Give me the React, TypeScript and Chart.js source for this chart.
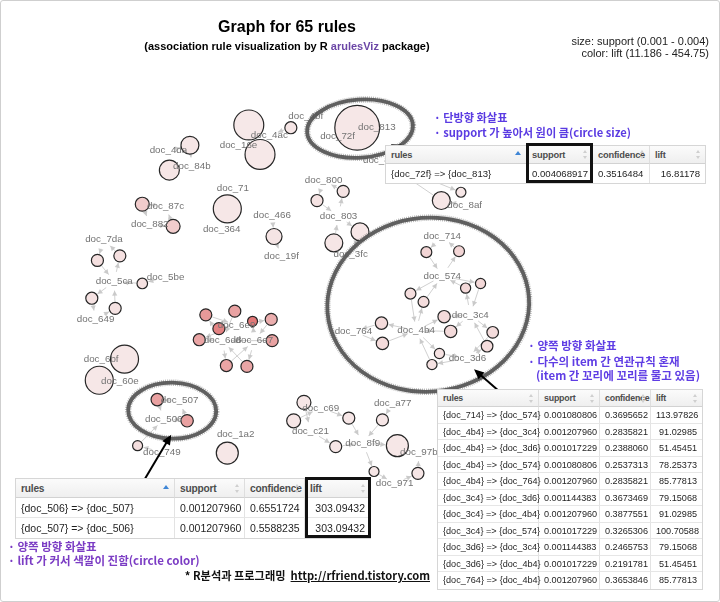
import React, { useEffect, useRef } from "react";
import { Chart, registerables } from "chart.js";

Chart.register(...registerables);

// ---------------- graph data (layout coordinates of the igraph plot) ----------------
const itemNames = [
  "doc_4bf", "doc_4ac", "doc_16e", "doc_72f", "doc_813", "doc_4da", "doc_84b", "doc_71",
  "doc_87c", "doc_882", "doc_364", "doc_466", "doc_19f", "doc_800", "doc_803", "doc_3fc",
  "doc_8af", "doc_7da", "doc_5ca", "doc_5be", "doc_649", "doc_6e9", "doc_6d8", "doc_6e7",
  "doc_6bf", "doc_60e", "doc_507", "doc_506", "doc_749", "doc_1a2", "doc_c69", "doc_a77",
  "doc_c21", "doc_8f9", "doc_97b", "doc_971", "doc_714", "doc_574", "doc_3c4", "doc_4b4",
  "doc_764", "doc_3d6", "doc_8c2",
];
const itemX = [
  302, 263, 230, 336, 378, 155, 180, 224,
  152, 135, 212, 266, 276, 321, 337, 350,
  472, 86, 97, 152, 77, 228, 213, 247,
  83, 103, 167, 150, 148, 227, 318, 395,
  307, 363, 423, 397, 448, 448, 478, 420,
  353, 475, 383,
];
const itemY = [
  101, 121, 132, 122, 113, 138, 155, 179,
  198, 218, 223, 208, 253, 170, 209, 250,
  197, 234, 280, 275, 321, 327, 344, 344,
  364, 388, 409, 429, 465, 446, 417, 412,
  442, 455, 465, 499, 231, 274, 316, 333,
  334, 363, 148,
];

// rule vertices (circles)
const ruleX = [
  241, 253, 286, 357, 178, 156, 127, 160, 218, 268,
  314, 342, 360, 332, 447, 468, 431, 466, 414, 428,
  473, 489, 450, 457, 383, 384, 502, 496, 445, 437,
  79, 103, 127, 73, 98, 108, 81, 143, 175, 122,
  218, 195, 226, 245, 265, 209, 188, 266, 217, 239,
  300, 289, 348, 384, 334, 400, 375, 422,
];
const ruleY = [
  110, 142, 113, 113, 132, 159, 196, 220, 201, 231,
  192, 182, 226, 238, 192, 183, 248, 247, 293, 302,
  287, 282, 318, 334, 325, 347, 335, 350, 358, 370,
  257, 252, 282, 298, 309, 364, 387, 408, 431, 458,
  466, 316, 312, 323, 321, 331, 343, 344, 371, 372,
  411, 431, 428, 430, 459, 458, 486, 488,
];
const ruleSupport = [
  0.00276, 0.00276, 0.00118, 0.004068917, 0.0017, 0.00188, 0.00135, 0.00135, 0.00259, 0.00153,
  0.00118, 0.00118, 0.0017, 0.0017, 0.0017, 0.001, 0.001080806, 0.001080806, 0.001080806, 0.001080806,
  0.001017229, 0.001017229, 0.00120796, 0.00120796, 0.00120796, 0.00120796, 0.001144383, 0.001144383, 0.001017229, 0.001017229,
  0.00118, 0.00118, 0.00105, 0.00118, 0.00118, 0.00259, 0.00259, 0.00120796, 0.00120796, 0.001,
  0.00206, 0.00118, 0.00118, 0.001, 0.00118, 0.00118, 0.00118, 0.00118, 0.00118, 0.00118,
  0.00135, 0.00135, 0.00118, 0.00118, 0.00118, 0.00206, 0.001, 0.00118,
];
const ruleLift = [
  14.2, 14.2, 35, 16.81178, 28, 28, 150, 150, 18, 40,
  45, 45, 30, 30, 25, 25, 113.97826, 113.97826, 78.25373, 78.25373,
  100.70588, 100.70588, 91.02985, 91.02985, 85.77813, 85.77813, 79.15068, 79.15068, 51.45451, 51.45451,
  60, 60, 55, 50, 50, 22, 22, 303.09432, 303.09432, 70,
  20, 330, 300, 430, 260, 400, 290, 300, 290, 290,
  30, 30, 28, 28, 25, 20, 30, 30,
];
const ruleLhs = [
  2, 1, 0, 3, 5, 6, 8, 9, 7, 11,
  13, 14, 14, 15, 16, 42, 36, 37, 37, 39,
  38, 37, 39, 38, 39, 40, 38, 41, 39, 41,
  17, 18, 19, 18, 20, 24, 25, 26, 27, 28,
  29, 22, 21, 23, 21, 22, 21, 23, 22, 23,
  30, 32, 30, 31, 32, 33, 33, 35,
];
const ruleRhs = [
  1, 2, 1, 4, 6, 5, 9, 8, 10, 12,
  14, 13, 15, 14, 42, 16, 37, 36, 39, 37,
  37, 38, 38, 39, 40, 39, 41, 38, 41, 39,
  18, 17, 18, 20, 18, 25, 24, 27, 26, 27,
  -1, 21, 22, 21, 23, 21, 22, 22, 23, 22,
  32, 30, 33, 33, 33, 34, 35, 34,
];

const SUPPORT_RANGE = [0.001, 0.004];
const LIFT_RANGE = [11.186, 454.75];

// ---------------- table data ----------------
const tableHeaders = ["rules", "support", "confidence", "lift"];

const t1Rules = ["{doc_72f} => {doc_813}"];
const t1Support = ["0.004068917"];
const t1Confidence = ["0.3516484"];
const t1Lift = ["16.81178"];

const t2Rules = [
  "{doc_714} => {doc_574}", "{doc_4b4} => {doc_3c4}", "{doc_4b4} => {doc_3d6}", "{doc_4b4} => {doc_574}",
  "{doc_4b4} => {doc_764}", "{doc_3c4} => {doc_3d6}", "{doc_3c4} => {doc_4b4}", "{doc_3c4} => {doc_574}",
  "{doc_3d6} => {doc_3c4}", "{doc_3d6} => {doc_4b4}", "{doc_764} => {doc_4b4}",
];
const t2Support = [
  "0.001080806", "0.001207960", "0.001017229", "0.001080806", "0.001207960", "0.001144383",
  "0.001207960", "0.001017229", "0.001144383", "0.001017229", "0.001207960",
];
const t2Confidence = [
  "0.3695652", "0.2835821", "0.2388060", "0.2537313", "0.2835821", "0.3673469",
  "0.3877551", "0.3265306", "0.2465753", "0.2191781", "0.3653846",
];
const t2Lift = [
  "113.97826", "91.02985", "51.45451", "78.25373", "85.77813", "79.15068",
  "91.02985", "100.70588", "79.15068", "51.45451", "85.77813",
];

const t3Rules = ["{doc_506} => {doc_507}", "{doc_507} => {doc_506}"];
const t3Support = ["0.001207960", "0.001207960"];
const t3Confidence = ["0.6551724", "0.5588235"];
const t3Lift = ["303.09432", "303.09432"];

// ---------------- texts ----------------
const titleText = "Graph for 65 rules";
const subtitleParts = ["(association rule visualization by R ", "arulesViz", " package)"];
const legendLines = ["size: support (0.001 - 0.004)", "color: lift (11.186 - 454.75)"];
const note1 = ["· 단방향 화살표", "· support 가 높아서 원이 큼(circle size)"];
const note2 = ["· 양쪽 방향 화살표", "· 다수의 item 간 연관규칙 혼재", "(item 간 꼬리에 꼬리를 물고 있음)"];
const note3 = ["· 양쪽 방향 화살표", "· lift 가 커서 색깔이 진함(circle color)"];
const creditText = "* R분석과 프로그래밍";
const creditUrl = "http://rfriend.tistory.com";

// ---------------- helpers ----------------
const SANS = '"Liberation Sans", Arial, Helvetica, sans-serif';
const KR = '"Noto Sans CJK KR", "Noto Sans", sans-serif';

function radiusOf(s: number) {
  return 5 + ((s - SUPPORT_RANGE[0]) / (SUPPORT_RANGE[1] - SUPPORT_RANGE[0])) * 17;
}
function liftColor(l: number) {
  let t = (l - LIFT_RANGE[0]) / (LIFT_RANGE[1] - LIFT_RANGE[0]);
  t = Math.max(0, Math.min(1, t));
  t = Math.pow(t, 1.25);
  const r = Math.round(246 + (224 - 246) * t);
  const g = Math.round(232 + (112 - 232) * t);
  return `rgb(${r},${g},${g})`;
}

const highlightEllipses = [
  { cx: 360, cy: 114, rx: 53, ry: 29, rot: -0.07 },
  { cx: 433, cy: 305, rx: 101, ry: 87, rot: -0.08 },
  { cx: 159, cy: 420, rx: 44, ry: 28, rot: 0.02 },
];
const pointerArrows = [
  { x1: 423, y1: 146, x2: 393, y2: 131 },
  { x1: 508, y1: 398, x2: 482, y2: 375 },
  { x1: 128, y1: 497, x2: 158, y2: 446 },
];

function drawArrowHead(ctx: CanvasRenderingContext2D, x: number, y: number, ang: number, len: number, half: number) {
  ctx.beginPath();
  ctx.moveTo(x, y);
  ctx.lineTo(x - len * Math.cos(ang) + half * Math.sin(ang), y - len * Math.sin(ang) - half * Math.cos(ang));
  ctx.lineTo(x - len * Math.cos(ang) - half * Math.sin(ang), y - len * Math.sin(ang) + half * Math.cos(ang));
  ctx.closePath();
  ctx.fill();
}

function edge(ctx: CanvasRenderingContext2D, x1: number, y1: number, x2: number, y2: number, g1: number, g2: number) {
  const dx = x2 - x1, dy = y2 - y1;
  const d = Math.hypot(dx, dy);
  if (d < g1 + g2 + 2) return;
  const ux = dx / d, uy = dy / d;
  const sx = x1 + ux * g1, sy = y1 + uy * g1;
  const ex = x2 - ux * g2, ey = y2 - uy * g2;
  ctx.beginPath();
  ctx.moveTo(sx, sy);
  ctx.lineTo(ex, ey);
  ctx.stroke();
  drawArrowHead(ctx, ex, ey, Math.atan2(uy, ux), 5, 2.6);
}

const graphPlugin = {
  id: "graphDecor",
  beforeDatasetsDraw(chart: any) {
    const ctx: CanvasRenderingContext2D = chart.ctx;
    const xs = chart.scales.x, ys = chart.scales.y;
    ctx.save();
    ctx.strokeStyle = "rgba(205,205,205,0.95)";
    ctx.fillStyle = "rgba(200,200,200,0.95)";
    ctx.lineWidth = 1;
    for (let i = 0; i < ruleX.length; i++) {
      const rx = xs.getPixelForValue(ruleX[i]), ry = ys.getPixelForValue(ruleY[i]);
      const r = radiusOf(ruleSupport[i]);
      const a = ruleLhs[i], b = ruleRhs[i];
      if (a >= 0) edge(ctx, xs.getPixelForValue(itemX[a]), ys.getPixelForValue(itemY[a]), rx, ry, 10, r + 1);
      if (b >= 0) edge(ctx, rx, ry, xs.getPixelForValue(itemX[b]), ys.getPixelForValue(itemY[b]), r + 1, 9);
    }
    ctx.restore();
  },
  afterDatasetsDraw(chart: any) {
    const ctx: CanvasRenderingContext2D = chart.ctx;
    const xs = chart.scales.x, ys = chart.scales.y;
    ctx.save();
    ctx.font = '9.8px "Liberation Sans", Arial, sans-serif';
    ctx.fillStyle = "#737373";
    ctx.textAlign = "center";
    ctx.textBaseline = "middle";
    for (let i = 0; i < itemNames.length; i++) {
      ctx.fillText(itemNames[i], xs.getPixelForValue(itemX[i]), ys.getPixelForValue(itemY[i]));
    }
    ctx.restore();

    // hand-drawn highlight ellipses
    for (const e of highlightEllipses) {
      ctx.save();
      ctx.translate(xs.getPixelForValue(e.cx), ys.getPixelForValue(e.cy));
      ctx.rotate(e.rot);
      ctx.strokeStyle = "rgba(110,110,110,0.5)";
      ctx.lineWidth = 6.5;
      ctx.setLineDash([0.9, 1.1]);
      ctx.beginPath();
      ctx.ellipse(0, 0, e.rx, e.ry, 0, 0, Math.PI * 2);
      ctx.stroke();
      ctx.setLineDash([]);
      ctx.strokeStyle = "rgba(88,88,88,0.95)";
      ctx.lineWidth = 3.8;
      ctx.beginPath();
      ctx.ellipse(0, 0, e.rx, e.ry, 0, 0, Math.PI * 2);
      ctx.stroke();
      ctx.restore();
    }
    // pointer arrows
    ctx.save();
    ctx.strokeStyle = "#000";
    ctx.fillStyle = "#000";
    ctx.lineWidth = 2;
    for (const a of pointerArrows) {
      const x1 = xs.getPixelForValue(a.x1), y1 = ys.getPixelForValue(a.y1);
      const x2 = xs.getPixelForValue(a.x2), y2 = ys.getPixelForValue(a.y2);
      const ang = Math.atan2(y2 - y1, x2 - x1);
      ctx.beginPath();
      ctx.moveTo(x1, y1);
      ctx.lineTo(x2 - 6 * Math.cos(ang), y2 - 6 * Math.sin(ang));
      ctx.stroke();
      drawArrowHead(ctx, x2, y2, ang, 10, 4.5);
    }
    ctx.restore();
  },
};

function Txt(props: any) {
  const { x, base, size, color = "#000", weight = 400, family = SANS, align = "left", cjk = false, children, style } = props;
  const top = base - (cjk ? 0.936 : 0.8465) * size;
  const st: any = {
    position: "absolute", top, fontSize: size, lineHeight: size + "px", fontWeight: weight,
    color, fontFamily: family, whiteSpace: "nowrap",
  };
  if (align === "left") st.left = x;
  else if (align === "right") st.right = 720 - x;
  else { st.left = x - 400; st.width = 800; st.textAlign = "center"; }
  return <div style={{ ...st, ...style }}>{children}</div>;
}

function SortIcon(props: any) {
  const { h, active } = props;
  if (active) {
    return (
      <span style={{ position: "absolute", right: 5, top: h / 2 - 4, width: 0, height: 0,
        borderLeft: "3px solid transparent", borderRight: "3px solid transparent", borderBottom: "4px solid #3f86d6" }} />
    );
  }
  return (
    <>
      <span style={{ position: "absolute", right: 5, top: h / 2 - 5, width: 0, height: 0,
        borderLeft: "2.5px solid transparent", borderRight: "2.5px solid transparent", borderBottom: "3px solid #cfcfcf" }} />
      <span style={{ position: "absolute", right: 5, top: h / 2 + 1, width: 0, height: 0,
        borderLeft: "2.5px solid transparent", borderRight: "2.5px solid transparent", borderTop: "3px solid #cfcfcf" }} />
    </>
  );
}

function DataTable(props: any) {
  const { left, top, widths, headH, rowH, size, cols, activeFirst } = props;
  const n = cols[0].length;
  const xs: number[] = [];
  let acc = 0;
  for (const w of widths) { xs.push(acc); acc += w; }
  const cells: any[] = [];
  tableHeaders.forEach((h, c) => {
    cells.push(
      <div key={"h" + c} style={{
        position: "absolute", left: xs[c], top: 0, width: widths[c], height: headH, boxSizing: "border-box",
        borderRight: c < 3 ? "1px solid #dedede" : "none", borderBottom: "1px solid #d2d2d2",
        background: "linear-gradient(#fbfbfb,#efefef)", fontWeight: "bold", color: "#4d4d4d",
        fontSize: size * 0.97, lineHeight: headH + "px", paddingLeft: 5, letterSpacing: -0.2,
      }}>
        {h}
        <SortIcon h={headH} active={activeFirst && c === 0} />
      </div>
    );
  });
  for (let r = 0; r < n; r++) {
    for (let c = 0; c < 4; c++) {
      cells.push(
        <div key={r + "_" + c} style={{
          position: "absolute", left: xs[c], top: headH + r * rowH, width: widths[c], height: rowH,
          boxSizing: "border-box", borderRight: c < 3 ? "1px solid #e3e3e3" : "none",
          borderBottom: r < n - 1 ? "1px solid #e6e6e6" : "none", color: "#1e1e1e", fontSize: size,
          lineHeight: rowH + "px", padding: "0 5px", textAlign: c === 3 ? "right" : "left", whiteSpace: "nowrap",
        }}>{cols[c][r]}</div>
      );
    }
  }
  return (
    <div style={{ position: "absolute", left: left - 1, top: top - 1, width: acc, height: headH + n * rowH,
      border: "1px solid #d6d6d6", background: "#fff", fontFamily: SANS }}>
      {cells}
    </div>
  );
}

export default function App() {
  const ref = useRef<HTMLCanvasElement>(null);
  useEffect(() => {
    document.body.style.margin = "0";
    const chart = new Chart(ref.current as HTMLCanvasElement, {
      type: "bubble",
      data: {
        datasets: [{
          label: "rules",
          data: ruleX.map((x, i) => ({ x, y: ruleY[i], r: radiusOf(ruleSupport[i]) })),
          backgroundColor: ruleLift.map(liftColor),
          borderColor: "#262626",
          borderWidth: 1.2,
          hoverRadius: 0,
          clip: false as any,
        }],
      },
      options: {
        responsive: false,
        animation: false,
        devicePixelRatio: 1,
        events: [],
        layout: { padding: 0 },
        scales: {
          x: { type: "linear", min: 0, max: 720, display: false },
          y: { type: "linear", min: 0, max: 602, reverse: true, display: false },
        },
        plugins: { legend: { display: false }, tooltip: { enabled: false }, title: { display: false } },
      },
      plugins: [graphPlugin as any],
    });
    return () => chart.destroy();
  }, []);

  return (
    <div style={{ position: "relative", width: 720, height: 602, overflow: "hidden", background: "#fff", fontFamily: SANS }}>
      <canvas ref={ref} width={720} height={602} style={{ position: "absolute", left: 0, top: 0 }} />

      <Txt x={287} base={33} size={16} weight="bold" align="center">{titleText}</Txt>
      <Txt x={287} base={50} size={11} weight="bold" align="center">
        {subtitleParts[0]}<span style={{ color: "#6b46a6" }}>{subtitleParts[1]}</span>{subtitleParts[2]}
      </Txt>
      <Txt x={709} base={45} size={11} color="#222" align="right">{legendLines[0]}</Txt>
      <Txt x={709} base={57} size={11} color="#222" align="right">{legendLines[1]}</Txt>

      <Txt x={434} base={122} size={11.2} weight="bold" color="#5a3be2" family={KR} cjk>{note1[0]}</Txt>
      <Txt x={434} base={137} size={11.2} weight="bold" color="#5a3be2" family={KR} cjk>{note1[1]}</Txt>

      <Txt x={528} base={351} size={11.5} weight="bold" color="#5f3de4" family={KR} cjk>{note2[0]}</Txt>
      <Txt x={528} base={367} size={11.5} weight="bold" color="#5f3de4" family={KR} cjk>{note2[1]}</Txt>
      <Txt x={536} base={381} size={11.5} weight="bold" color="#5f3de4" family={KR} cjk>{note2[2]}</Txt>

      <Txt x={8} base={552} size={11.5} weight="bold" color="#7b3cc4" family={KR} cjk>{note3[0]}</Txt>
      <Txt x={8} base={566} size={11.5} weight="bold" color="#7b3cc4" family={KR} cjk>{note3[1]}</Txt>

      <Txt x={430} base={580} size={11.2} weight="bold" color="#111" family={KR} cjk align="right">
        {creditText}&nbsp;&nbsp;<span style={{ textDecoration: "underline" }}>{creditUrl}</span>
      </Txt>

      <DataTable left={386} top={146} widths={[141, 66, 57, 55]} headH={18} rowH={19} size={9.6}
        cols={[t1Rules, t1Support, t1Confidence, t1Lift]} activeFirst />
      <DataTable left={438} top={390} widths={[101, 61, 51, 51]} headH={17} rowH={16.5} size={9.1}
        cols={[t2Rules, t2Support, t2Confidence, t2Lift]} activeFirst={false} />
      <DataTable left={16} top={479} widths={[159, 70, 60, 65]} headH={19} rowH={20} size={10.5}
        cols={[t3Rules, t3Support, t3Confidence, t3Lift]} activeFirst />

      <div style={{ position: "absolute", left: 526, top: 143, width: 67, height: 40, border: "3px solid #111", boxSizing: "border-box" }} />
      <div style={{ position: "absolute", left: 305, top: 477, width: 66, height: 61, border: "3px solid #111", boxSizing: "border-box" }} />

      <div style={{ position: "absolute", left: 0, top: 0, width: 720, height: 602, boxSizing: "border-box",
        border: "1px solid #cfcfcf", borderRadius: 3, pointerEvents: "none" }} />
    </div>
  );
}
